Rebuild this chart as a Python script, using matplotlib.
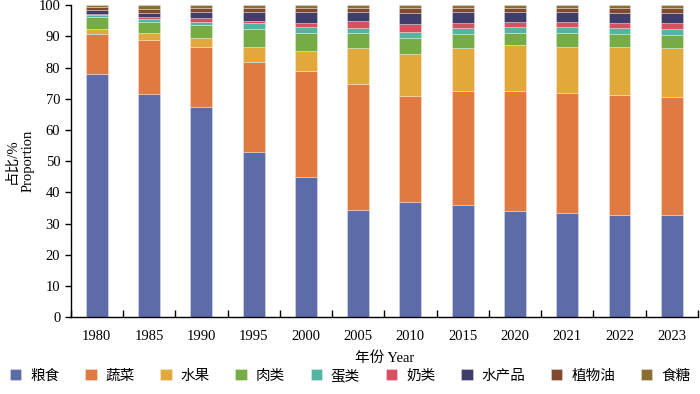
import matplotlib
matplotlib.use("Agg")
import matplotlib.pyplot as plt
import numpy as np

years = ["1980", "1985", "1990", "1995", "2000", "2005", "2010", "2015", "2020", "2021", "2022", "2023"]
series_names = ["粮食", "蔬菜", "水果", "肉类", "蛋类", "奶类", "水产品", "植物油", "食糖"]

grain     = [77.8, 71.4, 67.3, 52.9, 45.0, 34.4, 36.8, 36.1, 34.1, 33.4, 32.9, 32.7]
vegetable = [12.8, 17.4, 19.2, 28.9, 34.0, 40.2, 34.2, 36.5, 38.4, 38.4, 38.3, 38.0]
fruit     = [1.7, 2.3, 2.9, 4.9, 6.4, 11.7, 13.3, 13.7, 14.7, 14.9, 15.3, 15.5]
meat      = [3.8, 3.6, 4.3, 5.8, 5.7, 4.8, 5.3, 4.6, 3.9, 4.4, 4.4, 4.2]
egg       = [0.7, 0.8, 1.0, 1.9, 2.0, 1.7, 1.8, 1.8, 1.8, 1.8, 1.7, 1.8]
milk      = [0.5, 0.6, 1.1, 0.6, 1.1, 2.1, 2.7, 1.7, 1.7, 1.7, 1.8, 2.2]
aquatic   = [1.1, 1.4, 1.9, 2.8, 3.6, 2.9, 3.5, 3.4, 3.3, 3.2, 3.2, 3.2]
veg_oil   = [0.9, 1.2, 1.3, 1.2, 1.4, 1.2, 1.6, 1.4, 1.3, 1.4, 1.6, 1.6]
sugar     = [0.7, 1.3, 1.0, 1.0, 0.8, 1.0, 0.8, 0.8, 0.8, 0.8, 0.8, 0.8]

colors = ["#5D6BA8", "#E07A40", "#E2A83A", "#76AC46", "#50B6A0",
          "#D8505F", "#403D6B", "#824A2D", "#8A6D30"]

plt.rcParams['font.family'] = ['Liberation Serif', 'Noto Sans CJK SC']
plt.rcParams['font.size'] = 10.5

fig = plt.figure(figsize=(7, 3.94), dpi=100)
ax = fig.add_axes([0.101, 0.195, 0.896, 0.792])

data = [grain, vegetable, fruit, meat, egg, milk, aquatic, veg_oil, sugar]
x = np.arange(len(years))
bottom = np.zeros(len(years))
handles = []
for name, vals, c in zip(series_names, data, colors):
    vals = np.array(vals)
    b = ax.bar(x, vals, width=0.42, bottom=bottom, color=c, label=name,
               edgecolor=(1, 1, 1, 0.35), linewidth=0.6)
    handles.append(b)
    bottom += vals

ax.set_xlim(-0.5, len(years) - 0.5)
ax.set_ylim(0, 100)
ax.set_yticks(np.arange(0, 101, 10))
ax.set_xticks(x)
ax.set_xticklabels(years)
ax.set_xticks(np.arange(-0.5, len(years), 1.0), minor=True)
ax.tick_params(axis='x', which='major', length=0, pad=9)
ax.tick_params(axis='x', which='minor', direction='in', length=5, width=1)
ax.tick_params(axis='y', direction='out', length=4, width=1)
for s in ['top', 'right']:
    ax.spines[s].set_visible(False)
for s in ['left', 'bottom']:
    ax.spines[s].set_linewidth(1.0)

ax.set_xlabel("年份 Year", labelpad=6)
ax.set_ylabel("占比/%\nProportion", labelpad=3, linespacing=1.3)

fig.legend(handles=handles, labels=series_names, loc='lower center',
           bbox_to_anchor=(0.5, -0.005), ncol=9, frameon=False,
           handlelength=0.8, handleheight=0.8, handletextpad=0.6,
           columnspacing=1.75, fontsize=10.5)

fig.savefig("out.png", dpi=100)
